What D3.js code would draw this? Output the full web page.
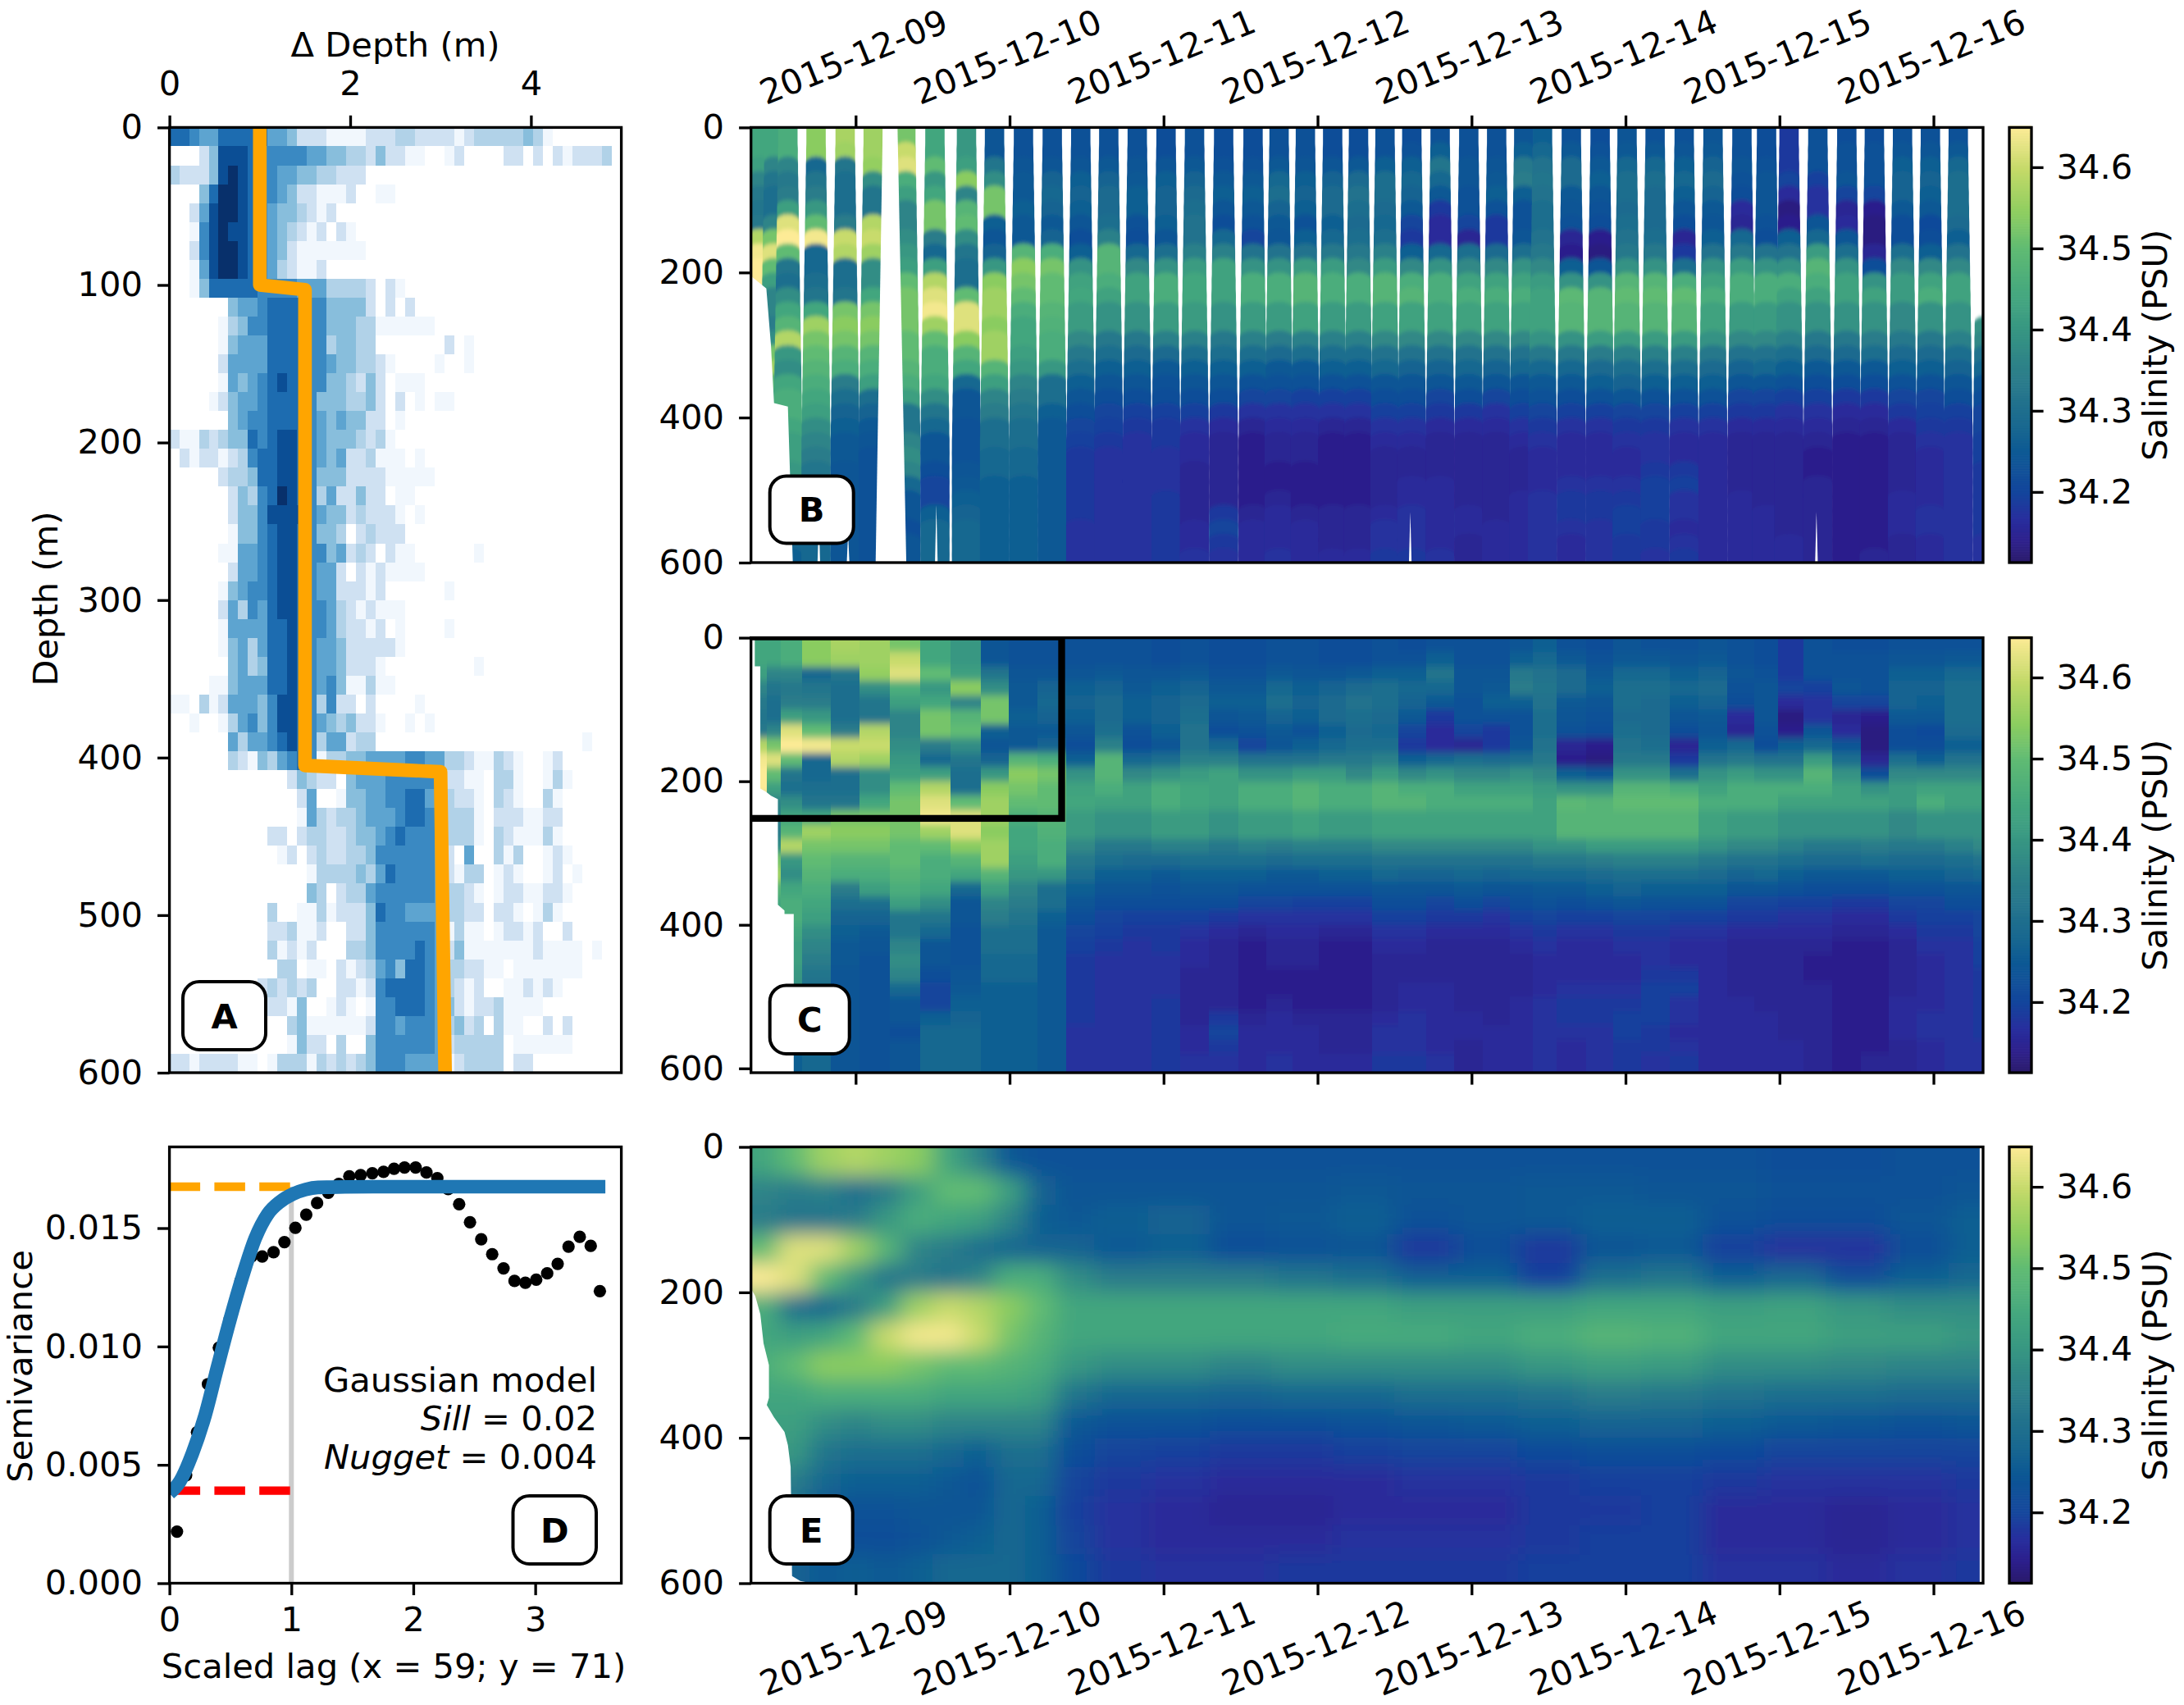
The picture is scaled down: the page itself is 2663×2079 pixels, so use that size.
<!DOCTYPE html>
<html>
<head>
<meta charset="UTF-8">
<title>Glider salinity gridding</title>
<style>
  body { margin: 0; background: #fff; }
  svg { display: block; font-family: "DejaVu Sans", sans-serif; }
  text { fill: #000; font-size: 41.67px; }
  .tick line { stroke: #000; stroke-width: 3.33px; }
</style>
</head>
<body>
<svg id="chart" width="2663" height="2079"></svg>
<script src="https://d3js.org/d3.v7.min.js"></script>
<script>

// panel A: histogram of depth differences, one string per 12 m row, one digit per bin (0-9 = count level)
const histRows = [
"7765577777554222111122233222212333334310000000",
"0002488876666655443324221100120000220202122230",
"322248987665544332220",
"00047998766542211120" + "0110",
"00258998765443212000",
"00168988765432120210",
"00268998765421111111",
"00158998765321120000",
"001477777666655533332021000000",
"000000455677776644442020200000",
"000001346677776644433111111000",
"0000014555777766344330000000201",
"0000025555777766544332100001001",
"000001545678776644324201110000",
"000012455677776444334202010110",
"000000456677776545442201000000",
"211323447678876544432310000000",
"021221236778876545223111010000",
"000002334778876444222211111000",
"000000243679876352242201100000",
"000000244688886544232221010000",
"000000144678876443023222000000",
"00000115567887664523202110000001",
"000000255678876552021211110000",
"000001456678876552221200000010",
"000002536578876653212111000000",
"000001555577876653221201000010",
"000001453577876554222221000000",
"00000045347787655422210000000001",
"000011455577876564113110000000",
"110312555468876362202000010000",
"001001356468876543422100101000",
"0000005355678763552330000000000000000000001",
"0000003214356761334455556655332113210012",
"00000000000024322045556666652211033100131",
"0000000000000250014455667754322103210031",
"0000000000000153233455567765333102221122",
"0000000000220233223445676665333103211131",
"00000000000120232233466666652050031300121",
"000000000000001333343576666521330121001201",
"00000000000000430233566666653321012211221",
"0000000000300113122247665555332202210131",
"00000000002231120022466666651311012212002",
"00000000003121200033466667652411111112111101",
"000000000003301102123564776533221101111111",
"0000000002323230022126777765321200112121",
"0000000000221400121016677765421223111100",
"000000000000341111112665666534230311002" + "02",
"00000000000014220300466666652333330111111",
"2212222110133313232346665555123333022000"
];
const histBinWidth = 5 / 46;   // m
const histRowHeight = 12;      // m

const stepDepth = [0, 100, 103, 405, 409, 600];
const stepDelta = [1, 1, 1.5, 1.5, 3, 3.05];

// panel D: experimental variogram
const lagValues = [0.062,0.137,0.226,0.316,0.405,0.494,0.583,0.672,0.761,0.854,0.943,1.033,1.122,1.211,1.303,1.389,1.475,1.568,1.664,1.756,1.842,1.928,2.019,2.108,2.197,2.286,2.376,2.465,2.557,2.647,2.740,2.830,2.919,3.008,3.098,3.184,3.273,3.365,3.455,3.530];
const semivariance = [0.00218,0.00456,0.00638,0.00841,0.00995,0.01115,0.01277,0.0138,0.0138,0.01398,0.01441,0.01501,0.01557,0.01606,0.01649,0.01687,0.01719,0.01724,0.01732,0.01738,0.01751,0.01756,0.01756,0.01735,0.01711,0.01665,0.01601,0.01525,0.01453,0.0139,0.0133,0.01277,0.01269,0.01282,0.01309,0.01349,0.01422,0.01463,0.01425,0.01234];
const modelLag = [0,0.086,0.189,0.292,0.395,0.497,0.600,0.703,0.806,0.909,1.012,1.115,1.218,1.321,1.441,1.784,3.575];
const modelGamma = [0.0038,0.00430,0.00549,0.00708,0.00915,0.01114,0.01297,0.01456,0.01559,0.01612,0.01644,0.01663,0.01672,0.01673,0.01674,0.01675,0.01675];
const sillValue = 0.01675;
const nuggetValue = 0.00391;

// panels B and C: glider casts. Days from 2015-12-09 00:00, salinity is 34 + value / 100 every 20 m, 0 = no sample
const castDays = [-0.625,-0.529,-0.440,-0.257,-0.068,0.114,0.326,0.515,0.720,0.902,1.090,1.277,1.462,1.644,1.829,2.016,2.201,2.390,2.581,2.750,2.921,3.098,3.266,3.438,3.612,3.796,3.982,4.163,4.339,4.461,4.648,4.835,5.010,5.192,5.381,5.568,5.756,5.916,6.062,6.249,6.437,6.616,6.799,6.980,7.161,7.350];
const castSalinity = [
[44,44,42,36,33,32,33,58,64,65,65],
[44,44,36,32,30,30,36,52,62,50,42,36,36,34,38,52,56,48,44],
[46,46,36,33,34,42,62,65,50,32,30,38,44,48,58,40,38,44,46,46,44,42,42,40,38,36,34,32,28,26],
[54,54,28,32,34,40,50,64,28,28,30,32,44,56,52,50,48,46,44,42,38,36,34,32,30,30,28,28,28,28],
[57,56,32,30,30,30,34,60,58,30,30,32,52,54,52,48,46,34,30,27,26,25,25,24,24,24,24,24,24,24],
[56,56,55,38,32,32,58,60,56,38,38,44,52,54,52,48,46,42,30,27,25,24,23,23,23,23,23,23,23,23],
[52,60,62,46,42,36,36,38,40,42,50,52,52,52,50,50,48,46,42,32,32,36,38,36,28,24,24,22,24,24],
[44,44,50,40,44,52,52,34,28,42,58,62,64,56,50,46,46,44,38,32,28,24,24,22,20,20,26,28,28,28],
[40,40,42,54,36,48,50,38,32,30,30,50,62,62,54,48,44,28,24,24,23,23,23,24,25,26,27,28,28,28],
[24,24,32,38,52,52,26,24,27,40,54,56,56,54,56,56,48,42,36,34,30,30,28,28,26,26,26,26,26,26],
[23,23,24,25,25,26,25,25,48,54,52,50,46,44,44,42,40,36,34,32,30,30,28,28,26,26,26,26,26,26],
[23,23,24,27,28,27,25,27,46,52,50,50,48,47,46,46,40,30,30,26,25,25,25,25,25,25,25,25,25,25],
[23,23,24,26,27,26,24,22,26,39,43,44,41,41,37,33,30,26,24,22,20,19,18,18,18,18,18,17,17,17],
[23,23,25,27,29,29,30,35,48,48,46,43,39,39,33,30,26,24,22,20,19,18,17,17,17,17,17,17,17,17],
[23,23,24,25,26,26,23,22,28,37,43,43,39,39,33,29,26,24,22,19,18,17,17,17,17,17,17,17,17,17],
[22,22,24,26,27,27,26,24,30,39,46,46,41,41,35,29,25,23,22,19,18,18,17,17,17,18,18,18,18,18],
[23,23,25,27,29,30,31,31,35,41,44,44,41,41,35,30,26,24,22,19,17,16,16,15,15,15,15,16,16,17],
[22,22,23,25,26,24,22,28,35,43,43,43,39,39,33,30,26,24,22,18,16,15,15,15,15,15,18,20,18,17],
[22,22,23,25,26,25,23,20,31,39,46,46,41,41,35,30,26,23,20,17,15,14,14,14,14,14,15,16,16,16],
[23,23,25,28,30,27,25,24,31,39,46,46,41,41,34,29,25,23,20,17,16,15,15,14,14,15,16,16,16,17],
[23,23,24,26,27,26,23,26,31,41,48,48,43,43,35,30,25,23,19,17,16,15,15,14,14,14,15,16,16,16],
[22,22,24,27,29,29,26,28,33,41,46,46,41,41,35,30,26,23,19,17,15,14,14,14,14,14,15,15,15,16],
[22,22,25,29,31,30,29,30,33,37,46,46,41,41,35,30,26,23,19,17,15,14,14,14,14,14,15,15,15,16],
[23,23,26,30,30,29,28,30,35,41,48,48,43,43,37,31,28,24,22,19,17,16,15,15,15,15,16,17,17,18],
[22,23,26,28,27,25,20,18,26,37,46,48,43,43,37,31,27,24,22,19,17,16,15,15,16,16,17,17,17,18],
[23,26,32,28,25,18,16,16,28,39,46,46,43,43,37,31,27,24,20,18,16,15,15,15,16,16,16,16,16,17],
[23,23,24,24,23,23,20,15,30,37,43,46,43,43,37,31,28,25,22,18,16,15,15,15,15,15,16,16,15,15],
[23,23,24,25,26,23,18,18,29,37,43,46,43,43,37,31,27,24,20,17,16,15,15,15,15,15,15,16,16,16],
[24,26,33,34,26,23,23,24,30,39,43,46,43,43,37,31,28,24,22,19,17,16,15,15,15,16,16,16,16,16],
[26,28,31,32,31,30,30,31,33,37,41,43,43,43,39,33,28,25,23,20,18,17,16,16,16,17,17,17,17,17],
[23,25,29,29,25,24,23,15,14,26,39,49,48,48,39,33,28,25,22,19,17,16,16,16,17,18,18,17,16,16],
[22,23,25,26,24,23,22,14,13,24,39,48,48,48,41,34,29,26,23,19,17,16,16,16,17,18,18,17,17,17],
[24,25,28,30,30,29,30,31,33,39,48,50,48,48,41,35,30,27,24,20,18,17,16,16,17,18,19,19,18,18],
[23,25,28,30,29,29,29,30,33,39,48,50,48,48,41,35,30,26,23,20,18,17,17,18,19,19,19,18,18,17],
[23,24,26,28,26,24,22,15,18,30,46,50,48,48,41,35,30,26,23,19,17,16,16,18,19,17,17,16,17,18],
[24,25,27,29,27,25,24,26,31,39,43,46,43,43,39,33,29,26,23,19,17,16,16,16,16,16,16,16,16,16],
[23,23,24,23,22,16,15,28,33,41,46,46,41,41,37,31,27,24,20,18,16,15,15,15,15,16,16,16,16,16],
[22,22,23,24,24,24,23,22,31,39,46,46,41,41,37,31,28,24,20,18,16,15,15,15,15,15,16,16,16,16],
[18,18,18,20,16,13,14,26,31,39,46,43,39,39,35,30,26,23,19,17,16,15,15,15,15,15,15,15,16,16],
[23,23,23,19,17,17,24,28,41,48,46,43,39,39,33,29,25,22,19,17,16,15,14,14,15,15,15,15,15,15],
[22,23,23,24,20,15,16,24,30,39,43,43,39,39,33,29,25,22,18,16,15,14,14,14,14,14,14,14,14,14],
[22,23,23,23,20,14,13,13,15,22,39,43,39,39,34,30,25,22,18,16,15,14,14,14,14,14,14,14,14,15],
[23,24,26,27,27,25,22,22,30,37,41,41,37,37,33,29,26,23,20,18,16,15,15,15,15,16,16,16,15,15],
[23,24,26,27,26,25,21,22,26,37,43,46,39,39,33,29,26,23,20,19,18,17,16,16,16,16,17,17,16,16],
[23,25,28,30,30,30,29,26,31,37,43,43,39,39,35,30,27,24,22,19,18,17,17,17,17,17,17,17,17,17],
[0,0,0,0,0,0,0,0,0,0,0,0,0,39,37,31,28,24,22,20,20,19,19,18,18,18,18,18,17,17]
];
const levelStep = 20; // m

// white data gaps in panel B
const gapDaysTop = [0.176, 0.272];
const gapDaysBottom = [0.130, 0.329];
const slitDays = [-0.239, -0.049, 0.524, 3.602, 6.240];
const slitDepths = [540, 560, 520, 530, 530];

// left limit of data for each panel
const edgeDepthB = [205, 222, 300, 380, 385, 600];
const edgeDayB = [-0.679, -0.58, -0.55, -0.53, -0.44, -0.408];
const edgeDepthC = [0, 40, 40, 210, 215, 220, 225, 372, 380, 385, 385, 606];
const edgeDayC = [-0.655, -0.655, -0.619, -0.619, -0.58, -0.55, -0.505, -0.505, -0.462, -0.462, -0.402, -0.402];
const edgeDepthE = [195, 205, 230, 270, 300, 345, 355, 372, 392, 410, 440, 590, 597, 600];
const edgeDayE = [-0.679, -0.652, -0.619, -0.598, -0.563, -0.563, -0.577, -0.530, -0.462, -0.440, -0.422, -0.413, -0.36, -0.285];

// panel E: kriged field, rows centred on these depths
const fieldDays = [-0.6,-0.4,-0.2,0,0.2,0.4,0.6,0.8,1.0,1.2,1.4,1.7,2.1,2.5,2.9,3.3,3.7,4.1,4.5,4.9,5.3,5.7,6.1,6.5,6.9,7.3];
const fieldDepths = [20,60,100,140,180,220,260,300,340,380,420,460,500,540,580];
const fieldSalinity = [
[44,36,34,50,65,46,44,46,44,42,40,38,34,30,28],
[50,34,32,62,62,30,42,50,44,42,40,34,30,26,27],
[56,35,32,62,50,28,44,54,46,38,32,28,24,22,25],
[58,30,34,56,40,34,50,54,46,36,30,26,23,22,26],
[56,34,40,48,32,42,60,54,46,38,30,26,23,22,25],
[54,42,46,36,34,56,64,52,46,38,30,26,24,23,26],
[44,50,44,34,32,60,64,50,44,36,28,25,24,25,28],
[36,50,42,30,36,58,60,50,44,36,26,23,24,26,28],
[25,42,36,28,46,54,52,48,44,36,30,28,28,28,28],
[23,27,26,27,46,50,48,46,42,36,30,28,26,26,26],
[23,24,25,27,38,44,44,40,32,25,22,20,19,20,21],
[23,24,26,25,34,44,44,38,28,23,20,18,17,17,18],
[23,24,27,26,34,44,44,38,28,23,19,17,16,16,17],
[23,24,24,22,34,44,44,36,27,22,18,16,15,16,17],
[23,24,25,23,32,44,44,38,28,22,18,16,15,16,18],
[23,25,26,24,30,44,45,38,28,23,19,16,16,17,18],
[23,24,23,18,26,42,45,38,30,24,20,17,16,17,18],
[23,24,24,22,26,42,44,38,30,25,20,17,16,17,18],
[23,25,25,18,19,42,46,40,31,26,21,18,18,18,19],
[23,25,26,24,30,44,48,42,34,27,22,19,18,19,19],
[23,24,26,25,32,44,47,41,33,27,22,19,19,19,19],
[23,24,23,19,26,42,44,38,31,26,21,18,16,16,17],
[22,23,22,17,28,43,44,38,30,25,20,17,16,16,17],
[22,23,22,17,22,40,42,37,30,24,20,17,15,15,16],
[23,23,24,22,26,38,42,36,29,23,20,17,16,16,17],
[23,24,26,26,28,38,40,36,29,24,20,18,17,17,18]
];

const dateTicks = [0, 1, 2, 3, 4, 5, 6, 7];
const salinityTicks = [34.2, 34.3, 34.4, 34.5, 34.6];
const salinityRange = [34.113, 34.649];
const halineStops = ["#2a1a6b","#2c1f8c","#282f9e","#13459c","#0c5894","#196890","#26778b","#308687","#389882","#45a87e","#60bb73","#8ccd60","#c3d968","#fdeb96"];
const halineAt = [0,0.05,0.10,0.16,0.25,0.31,0.40,0.47,0.54,0.62,0.72,0.80,0.90,1];

// ---------- layout ----------
const svg = d3.select("#chart");
const left = { l: 206.6, r: 757.6 };
const right = { l: 915.7, r: 2418 };
const bar = { l: 2450, r: 2477 };
const rowB = { t: 155.4, b: 686 };
const rowC = { t: 777.6, b: 1308 };
const rowE = { t: 1398.5, b: 1930.5 };
const rowA = { t: 155.4, b: 1308 };

const dayAt = d => new Date(Date.UTC(2015, 11, 9) + d * 864e5);
const x = d3.scaleUtc().domain([dayAt(-0.6796), dayAt(7.322)]).range([right.l, right.r]);
const yB = d3.scaleLinear().domain([0, 600]).range([rowB.t, rowB.b]);
const yC = d3.scaleLinear().domain([0, 606]).range([rowC.t, rowC.b]);
const yE = d3.scaleLinear().domain([0, 600]).range([rowE.t, rowE.b]);

const color = d3.scaleLinear()
  .domain(halineAt.map(t => salinityRange[0] + t * (salinityRange[1] - salinityRange[0])))
  .range(halineStops)
  .clamp(true);
const salt = v => color(34 + v / 100);
const histLevel = d3.scaleLinear().domain([1, 2, 9]).range([0.03, 0.2, 1]);

// blurs used to soften the coloured panels
const defs = svg.append("defs");
[["softB", "0 2.5"], ["softC", "0 5"], ["softE", "14 12"]].forEach(f => {
  defs.append("filter").attr("id", f[0]).attr("filterUnits", "userSpaceOnUse")
    .attr("x", 700).attr("y", 0).attr("width", 1950).attr("height", 2079)
    .append("feGaussianBlur").attr("stdDeviation", f[1]);
});

function clipFor(id, xr, row) {
  defs.append("clipPath").attr("id", id).append("rect")
    .attr("x", xr.l).attr("y", row.t).attr("width", xr.r - xr.l).attr("height", row.b - row.t);
  return svg.append("g").attr("clip-path", "url(#" + id + ")");
}

function frame(xr, row) {
  svg.append("rect").attr("x", xr.l).attr("y", row.t)
    .attr("width", xr.r - xr.l).attr("height", row.b - row.t)
    .attr("fill", "none").attr("stroke", "#000").attr("stroke-width", 3.33);
}

function styleAxis(g) {
  g.select(".domain").remove();
  g.selectAll("text").attr("fill", "#000").style("font-size", "41.67px").style("font-family", '"DejaVu Sans", sans-serif');
  return g;
}

function tag(label, bx, by, bw, bh) {
  svg.append("rect").attr("x", bx).attr("y", by).attr("width", bw).attr("height", bh)
    .attr("rx", 20).attr("fill", "#fff").attr("stroke", "#000").attr("stroke-width", 4);
  svg.append("text").attr("x", bx + bw / 2).attr("y", by + bh / 2 + 15)
    .attr("text-anchor", "middle").style("font-weight", "bold").text(label);
}

function leftMask(g, y, depths, days) {
  const pts = depths.map((d, i) => [x(dayAt(days[i])), y(d)]);
  const x0 = right.l - 5;
  pts.unshift([x0, pts[0][1]]);
  pts.push([x0, pts[pts.length - 1][1] + 6]);
  g.append("path").attr("d", d3.line()(pts) + "Z").attr("fill", "#fff");
}

function yAxisRight(y) {
  return d3.axisLeft(y).tickValues([0, 200, 400, 600]).tickSize(14.6).tickPadding(18).tickFormat(d3.format("d"));
}

function colorbar(row) {
  const y = d3.scaleLinear().domain(salinityRange).range([row.b, row.t]);
  const g = svg.append("g");
  const steps = d3.range(salinityRange[0], salinityRange[1], 0.002);
  g.selectAll("rect").data(steps).enter().append("rect")
    .attr("x", bar.l).attr("width", bar.r - bar.l)
    .attr("y", d => y(d + 0.002))
    .attr("height", d => y(d) - y(d + 0.002) + 0.6)
    .attr("fill", d => color(d));
  frame(bar, row);
  svg.append("g").attr("transform", "translate(" + bar.r + ",0)")
    .call(d3.axisRight(y).tickValues(salinityTicks).tickSize(14.6).tickPadding(16).tickFormat(d3.format(".1f")))
    .call(styleAxis);
  svg.append("text").attr("transform", "translate(2642," + (row.t + row.b) / 2 + ") rotate(-90)")
    .attr("text-anchor", "middle").text("Salinity (PSU)");
}

// ---------- panel A ----------
const xA = d3.scaleLinear().domain([0, 5]).range([left.l, left.r]);
const yA = d3.scaleLinear().domain([0, 600]).range([rowA.t, rowA.b]);
const gA = clipFor("clipA", left, rowA);
const histCells = [];
histRows.forEach((row, r) => row.split("").forEach((ch, b) => {
  if (ch !== "0") histCells.push({ r: r, b: b, level: +ch });
}));
gA.selectAll("rect").data(histCells).enter().append("rect")
  .attr("x", d => xA(d.b * histBinWidth))
  .attr("width", xA(histBinWidth) - xA(0))
  .attr("y", d => yA(d.r * histRowHeight))
  .attr("height", yA(histRowHeight) - yA(0))
  .attr("fill", d => d3.interpolateBlues(histLevel(d.level)))
  .attr("shape-rendering", "crispEdges");
gA.append("path")
  .attr("d", d3.line().x((d, i) => xA(stepDelta[i])).y(d => yA(d))(stepDepth))
  .attr("fill", "none").attr("stroke", "orange").attr("stroke-width", 16.67).attr("stroke-linejoin", "round");
frame(left, rowA);
svg.append("g").attr("transform", "translate(0," + rowA.t + ")")
  .call(d3.axisTop(xA).tickValues([0, 2, 4]).tickSize(14.6).tickPadding(25).tickFormat(d3.format("d")))
  .call(styleAxis);
svg.append("g").attr("transform", "translate(" + left.l + ",0)")
  .call(d3.axisLeft(yA).tickValues([0, 100, 200, 300, 400, 500, 600]).tickSize(14.6).tickPadding(18))
  .call(styleAxis);
svg.append("text").attr("x", 482).attr("y", 69).attr("text-anchor", "middle").text("Δ Depth (m)");
svg.append("text").attr("transform", "translate(70,730) rotate(-90)").attr("text-anchor", "middle").text("Depth (m)");
tag("A", 223, 1197, 101, 83);

// ---------- panel B: each sample drawn as a dome, deeper ones on top ----------
const gB = clipFor("clipB", right, rowB);
const domes = [];
castSalinity.forEach((profile, c) => profile.forEach((v, i) => {
  if (v > 0) domes.push({ c: c, i: i, v: v, last: i === profile.length - 1 });
}));
const domePath = d => {
  const depth = d.i * levelStep;
  const cx = x(dayAt(castDays[d.c]));
  const rx = 11.8 + 6 * Math.min(1, depth / 420);
  if (d.i === 0) return "M" + (cx - rx) + "," + (rowB.t - 20) + "H" + (cx + rx) + "V" + (yB(levelStep) + 12) + "H" + (cx - rx) + "Z";
  const ry = 7.5;
  const top = yB(depth) + ry;
  const foot = yB(depth + levelStep) + (d.last ? 2 * ry : ry + 2);
  return "M" + (cx - rx) + "," + foot + "L" + (cx - rx) + "," + top +
    "A" + rx + "," + ry + " 0 0 1 " + (cx + rx) + "," + top + "L" + (cx + rx) + "," + foot + "Z";
};
gB.append("g").attr("filter", "url(#softB)")
  .selectAll("path").data(domes).enter().append("path")
  .attr("d", domePath)
  .attr("fill", d => salt(d.v));
gB.append("path")
  .attr("d", d3.line()([
    [x(dayAt(gapDaysTop[0])), yB(0)], [x(dayAt(gapDaysTop[1])), yB(0)],
    [x(dayAt(gapDaysBottom[1])), yB(600)], [x(dayAt(gapDaysBottom[0])), yB(600)]
  ]) + "Z").attr("fill", "#fff");
gB.selectAll("path.slit").data(slitDays).enter().append("path").attr("class", "slit")
  .attr("d", (d, i) => {
    const sx = x(dayAt(d));
    return "M" + sx + "," + yB(slitDepths[i]) + "L" + (sx + 1.6) + "," + yB(600) + "L" + (sx - 1.6) + "," + yB(600) + "Z";
  }).attr("fill", "#fff");
leftMask(gB, yB, edgeDepthB, edgeDayB);
frame(right, rowB);
svg.append("g").attr("transform", "translate(" + right.l + ",0)").call(yAxisRight(yB)).call(styleAxis);
svg.append("g").attr("transform", "translate(0," + rowB.t + ")")
  .call(d3.axisTop(x).tickValues(dateTicks.map(dayAt)).tickSize(14.6).tickFormat(d3.utcFormat("%Y-%m-%d")))
  .call(styleAxis)
  .selectAll("text").attr("y", 0).attr("dy", "0.35em").attr("text-anchor", "middle")
  .attr("transform", "translate(-3,-86) rotate(-22)");
tag("B", 938.7, 580.4, 102, 82);
colorbar(rowB);

// ---------- panel C: casts gridded onto columns ----------
const gC = clipFor("clipC", right, rowC);
const gridCells = [];
d3.range(30).forEach(i => {
  const row = castSalinity.map((p, c) => ({ c: c, v: p[i] || 0 })).filter(d => d.v > 0);
  row.forEach((d, n) => {
    const t = castDays[d.c];
    const x0 = n === 0 ? right.l : (x(dayAt(t)) + x(dayAt(castDays[row[n - 1].c]))) / 2;
    const x1 = n === row.length - 1 ? right.r : (x(dayAt(t)) + x(dayAt(castDays[row[n + 1].c]))) / 2;
    gridCells.push({ i: i, v: d.v, x0: x0, x1: x1 });
  });
});
gC.append("g").attr("filter", "url(#softC)")
  .selectAll("rect").data(gridCells).enter().append("rect")
  .attr("x", d => d.x0).attr("width", d => d.x1 - d.x0)
  .attr("y", d => yC(d.i * levelStep) - (d.i === 0 ? 25 : 0))
  .attr("height", d => yC((d.i + 1) * levelStep) - yC(d.i * levelStep) + (d.i === 0 ? 25 : 0) + (d.i === 29 ? 40 : 0))
  .attr("fill", d => salt(d.v))
  .attr("shape-rendering", "crispEdges");
leftMask(gC, yC, edgeDepthC, edgeDayC);
gC.append("rect")
  .attr("x", right.l - 3)
  .attr("y", yC(0) - 1)
  .attr("width", x(dayAt(1.338)) - right.l + 3)
  .attr("height", yC(251.7) - yC(0) + 1)
  .attr("fill", "none").attr("stroke", "#000").attr("stroke-width", 8.33);
frame(right, rowC);
svg.append("g").attr("transform", "translate(" + right.l + ",0)").call(yAxisRight(yC)).call(styleAxis);
svg.append("g").attr("transform", "translate(0," + rowC.b + ")")
  .call(d3.axisBottom(x).tickValues(dateTicks.map(dayAt)).tickSize(14.6).tickFormat(""))
  .call(styleAxis);
tag("C", 938.7, 1201.4, 97, 83.6);
colorbar(rowC);

// ---------- panel E: smooth field, coarse cells blurred together ----------
const gE = clipFor("clipE", right, rowE);
const fieldCells = [];
fieldDays.forEach((t, c) => {
  const cx = x(dayAt(t));
  const x0 = c === 0 ? right.l - 100 : (cx + x(dayAt(fieldDays[c - 1]))) / 2;
  const x1 = c === fieldDays.length - 1 ? right.r + 100 : (cx + x(dayAt(fieldDays[c + 1]))) / 2;
  fieldDepths.forEach((dp, r) => {
    const y0 = r === 0 ? rowE.t - 80 : yE(dp - 20);
    const y1 = r === fieldDepths.length - 1 ? rowE.b + 80 : yE(dp + 20);
    fieldCells.push({ x0: x0, x1: x1, y0: y0, y1: y1, v: fieldSalinity[c][r] });
  });
});
gE.append("g").attr("filter", "url(#softE)")
  .selectAll("rect").data(fieldCells).enter().append("rect")
  .attr("x", d => d.x0).attr("y", d => d.y0)
  .attr("width", d => d.x1 - d.x0 + 0.5).attr("height", d => d.y1 - d.y0 + 0.5)
  .attr("fill", d => salt(d.v));
leftMask(gE, yE, edgeDepthE, edgeDayE);
gE.append("rect").attr("x", x(dayAt(7.30))).attr("y", rowE.t).attr("width", 30).attr("height", rowE.b - rowE.t).attr("fill", "#fff");
frame(right, rowE);
svg.append("g").attr("transform", "translate(" + right.l + ",0)").call(yAxisRight(yE)).call(styleAxis);
svg.append("g").attr("transform", "translate(0," + rowE.b + ")")
  .call(d3.axisBottom(x).tickValues(dateTicks.map(dayAt)).tickSize(14.6).tickFormat(d3.utcFormat("%Y-%m-%d")))
  .call(styleAxis)
  .selectAll("text").attr("y", 0).attr("dy", "0.35em").attr("text-anchor", "middle")
  .attr("transform", "translate(-3,79) rotate(-22)");
tag("E", 938.7, 1824, 101, 83);
colorbar(rowE);

// ---------- panel D ----------
const xD = d3.scaleLinear().domain([0, 3.706]).range([left.l, left.r]);
const yD = d3.scaleLinear().domain([0, 0.01843]).range([rowE.b, rowE.t]);
const gD = clipFor("clipD", left, rowE);
gD.append("line").attr("x1", xD(1)).attr("x2", xD(1)).attr("y1", yD(0)).attr("y2", yD(sillValue))
  .attr("stroke", "#ccc").attr("stroke-width", 6);
gD.selectAll("circle").data(lagValues).enter().append("circle")
  .attr("cx", d => xD(d)).attr("cy", (d, i) => yD(semivariance[i])).attr("r", 7.6).attr("fill", "#000");
[[sillValue, "orange"], [nuggetValue, "red"]].forEach(h => {
  gD.append("line").attr("x1", xD(0)).attr("x2", xD(1)).attr("y1", yD(h[0])).attr("y2", yD(h[0]))
    .attr("stroke", h[1]).attr("stroke-width", 10.4).attr("stroke-dasharray", "37.5 17.3");
});
gD.append("path")
  .attr("d", d3.line().curve(d3.curveMonotoneX).x(d => xD(d)).y((d, i) => yD(modelGamma[i]))(modelLag))
  .attr("fill", "none").attr("stroke", "#1f77b4").attr("stroke-width", 16.67);
frame(left, rowE);
svg.append("g").attr("transform", "translate(0," + rowE.b + ")")
  .call(d3.axisBottom(xD).tickValues([0, 1, 2, 3]).tickSize(14.6).tickPadding(14.6).tickFormat(d3.format("d")))
  .call(styleAxis);
svg.append("g").attr("transform", "translate(" + left.l + ",0)")
  .call(d3.axisLeft(yD).tickValues([0, 0.005, 0.010, 0.015]).tickSize(14.6).tickPadding(18).tickFormat(d3.format(".3f")))
  .call(styleAxis);
svg.append("text").attr("x", 480).attr("y", 2046).attr("text-anchor", "middle").text("Scaled lag (x = 59; y = 71)");
svg.append("text").attr("transform", "translate(39,1666) rotate(-90)").attr("text-anchor", "middle").text("Semivariance");
svg.append("text").attr("x", 728).attr("y", 1697).attr("text-anchor", "end").text("Gaussian model");
const sillText = svg.append("text").attr("x", 728).attr("y", 1744).attr("text-anchor", "end");
sillText.append("tspan").style("font-style", "italic").text("Sill");
sillText.append("tspan").text(" = 0.02");
const nuggetText = svg.append("text").attr("x", 728).attr("y", 1791).attr("text-anchor", "end");
nuggetText.append("tspan").style("font-style", "italic").text("Nugget");
nuggetText.append("tspan").text(" = 0.004");
tag("D", 625.5, 1824, 101.5, 83);

</script>
</body>
</html>
